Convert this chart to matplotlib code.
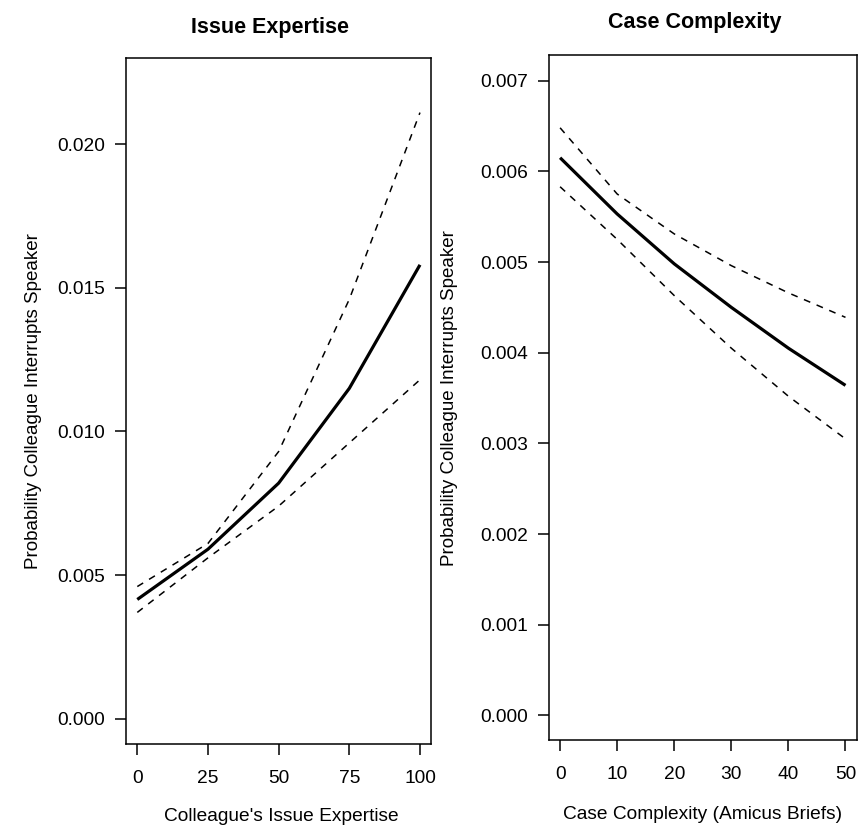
import matplotlib
matplotlib.use("Agg")
import matplotlib.pyplot as plt

plt.rcParams['font.family'] = ['Liberation Sans', 'DejaVu Sans']

# marginal effect of colleague's issue expertise
expertise = [0, 25, 50, 75, 100]
exp_fit = [0.00415, 0.0059, 0.0082, 0.0115, 0.0158]
exp_upper = [0.0046, 0.0061, 0.0093, 0.0146, 0.0211]
exp_lower = [0.0037, 0.0056, 0.0074, 0.0096, 0.0118]

# marginal effect of case complexity
briefs = [0, 10, 20, 30, 40, 50]
cc_fit = [0.00615, 0.00553, 0.00498, 0.00450, 0.00405, 0.00364]
cc_upper = [0.00648, 0.00575, 0.00531, 0.00496, 0.00466, 0.00439]
cc_lower = [0.00583, 0.00525, 0.00463, 0.00405, 0.00352, 0.00305]

ylab = "Probability Colleague Interrupts Speaker"


def style_axis(ax, xpad, ypad):
    for s in ax.spines.values():
        s.set_linewidth(1.1)
    ax.tick_params(direction='out', length=8, width=1.1, labelsize=13.8)
    ax.tick_params(axis='x', pad=xpad)
    ax.tick_params(axis='y', pad=ypad)


def draw_effect(ax, x, fit, lo, hi):
    ax.plot(x, fit, color='black', lw=2.3, solid_capstyle='butt')
    for band in (lo, hi):
        ax.plot(x, band, color='black', lw=1.1, dashes=(4.5, 4.5))


fig = plt.figure(figsize=(8.6, 8.32), dpi=100)

ax1 = fig.add_axes([0.1465, 0.1058, 0.355, 0.8245])
draw_effect(ax1, expertise, exp_fit, exp_lower, exp_upper)
ax1.set_xlim(-4, 104)
ax1.set_ylim(-0.00088, 0.0230)
ax1.set_xticks(expertise)
ax1.set_yticks([0, 0.005, 0.010, 0.015, 0.020])
ax1.set_yticklabels(["0.000", "0.005", "0.010", "0.015", "0.020"])
style_axis(ax1, 11, 7)
ax1.set_xlabel("Colleague's Issue Expertise", fontsize=13.8)
ax1.xaxis.set_label_coords(0.51, -0.093)
ax1.set_ylabel(ylab, fontsize=13.5)
ax1.yaxis.set_label_coords(-0.275, 0.5)
ax1.text(0.472, 1.045, "Issue Expertise", transform=ax1.transAxes,
         ha='center', va='center', fontsize=15.5, fontweight='bold')

ax2 = fig.add_axes([0.638, 0.1106, 0.3584, 0.823])
draw_effect(ax2, briefs, cc_fit, cc_lower, cc_upper)
ax2.set_xlim(-2, 52)
ax2.set_ylim(-0.00027, 0.00728)
ax2.set_xticks(briefs)
ax2.set_yticks([0, 0.001, 0.002, 0.003, 0.004, 0.005, 0.006, 0.007])
ax2.set_yticklabels(["0.000", "0.001", "0.002", "0.003", "0.004",
                     "0.005", "0.006", "0.007"])
style_axis(ax2, 11, 7)
ax2.set_xlabel("Case Complexity (Amicus Briefs)", fontsize=13.8)
ax2.xaxis.set_label_coords(0.50, -0.096)
ax2.set_ylabel(ylab, fontsize=13.5)
ax2.yaxis.set_label_coords(-0.295, 0.5)
ax2.text(0.474, 1.048, "Case Complexity", transform=ax2.transAxes,
         ha='center', va='center', fontsize=15.5, fontweight='bold')

fig.savefig("out.png", dpi=100)
